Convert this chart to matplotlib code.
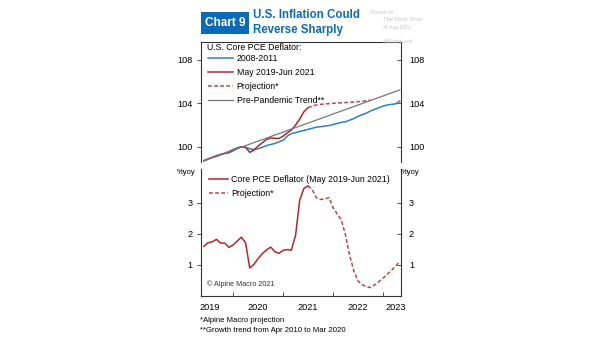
"""U.S. Inflation Could Reverse Sharply"""
import pandas as pd
import matplotlib
matplotlib.use('Agg')
from matplotlib import pyplot as plt

plt.rcParams['font.family'] = ['Liberation Sans', 'DejaVu Sans']

# Month-end dates, May 2019 - Apr 2023
dates = pd.date_range('2019-05-31', periods=48, freq='ME')

# Top panel: index levels
pce_2008_2011 = [98.71, 98.85, 99.0, 99.1, 99.25, 99.4, 99.55, 99.75, 99.9, 100.0,
                 99.95, 99.8, 99.75, 99.82, 99.95, 100.1, 100.2, 100.3, 100.45, 100.6,
                 101.0, 101.2, 101.3, 101.4, 101.5, 101.6, 101.7, 101.8, 101.85, 101.9,
                 101.95, 102.05, 102.15, 102.25, 102.3, 102.45, 102.6, 102.8, 102.95, 103.1,
                 103.3, 103.45, 103.6, 103.75, 103.85, 103.9, 103.95, 104.2]
pce_2019_2021 = [98.71, 98.86, 99.02, 99.17, 99.29, 99.38, 99.45, 99.63, 99.85, 100.0,
                 99.94, 99.48, 99.69, 100.06, 100.37, 100.68, 100.8, 100.77, 100.77, 100.98,
                 101.29, 101.54, 102.0, 102.55, 103.23, 103.6]
pce_projection = [103.6, 103.75, 103.85, 103.91, 103.94, 103.97, 104.0, 104.03, 104.05,
                  104.07, 104.09, 104.12, 104.15, 104.19, 104.24, 104.3]
trend_values = [98.71, 105.23]

# Bottom panel: %yoy
yoy_actual = [1.59, 1.71, 1.74, 1.82, 1.70, 1.70, 1.56, 1.64, 1.77, 1.89,
              1.70, 0.90, 1.02, 1.20, 1.36, 1.48, 1.57, 1.42, 1.37, 1.47,
              1.49, 1.47, 1.96, 3.08, 3.46, 3.54]
yoy_projection = [3.54, 3.41, 3.15, 3.10, 3.12, 3.16, 2.83, 2.62, 2.45, 1.95,
                  1.30, 0.80, 0.48, 0.36, 0.30, 0.27, 0.36, 0.46, 0.58, 0.70,
                  0.82, 0.96, 1.10]

year_ticks = ['2020', '2021', '2022', '2023']
year_labels = ['2019', '2020', '2021', '2022', '2023']
year_label_pos = ['2019-07-14', '2020-07-01', '2021-07-01', '2022-07-01', '2023-04-01']

BLUE = '#2f7fc1'
RED = '#b0272d'
RED_DASH = '#b5474d'
GREY = '#777777'
TITLE_BLUE = '#0a6ab8'
FS = 6.3

fig = plt.figure(figsize=(6.05, 3.41), dpi=100)
ax1 = fig.add_axes([0.3322, 0.5249, 0.330, 0.3519])
ax2 = fig.add_axes([0.3322, 0.1320, 0.330, 0.3724])

# Top panel
ax1.plot(dates, pce_2008_2011, c=BLUE, lw=1.1)
ax1.plot(dates[:26], pce_2019_2021, c=RED, lw=1.1)
ax1.plot(dates[25:25 + len(pce_projection)], pce_projection, c=RED_DASH, lw=1.1, ls=(0, (2.5, 1.5)))
ax1.plot([dates[0], dates[-1]], trend_values, c=GREY, lw=0.9)

# Bottom panel
ax2.plot(dates[:26], yoy_actual, c=RED, lw=1.1)
ax2.plot(dates[25:25 + len(yoy_projection)], yoy_projection, c=RED_DASH, lw=1.1, ls=(0, (2.5, 1.5)))

xmin = pd.Timestamp('2019-05-10')
xmax = pd.Timestamp('2023-05-07')
for ax in (ax1, ax2):
    ax.set_xlim(xmin, xmax)
    ax.set_xticks([pd.Timestamp(y + '-01-01') for y in year_ticks])
    ax.set_xticks([pd.Timestamp(d) for d in year_label_pos], minor=True)
    ax.tick_params(axis='x', which='major', direction='in', length=3, width=0.6,
                   labelbottom=False, color='#333333')
    ax.tick_params(axis='x', which='minor', length=0, labelsize=FS + 0.3, pad=5)
    ax.tick_params(axis='y', direction='out', length=3, width=0.6, labelsize=FS + 0.3,
                   color='#333333', right=True, labelright=True, pad=3)
    for s in ax.spines.values():
        s.set_linewidth(0.8)
        s.set_color('#333333')
    ax.set_facecolor('none')

ax1.set_ylim(98.59, 109.65)
ax1.set_yticks([100, 104, 108])
ax1.spines['bottom'].set_visible(False)
ax1.tick_params(axis='x', which='both', bottom=False)
ax1.set_xticklabels([], minor=True)

ax2.set_ylim(0, 4.08)
ax2.set_yticks([1, 2, 3])
ax2.spines['top'].set_visible(False)
ax2.set_xticklabels(year_labels, minor=True)

# Right-side ticks point inward
for ax in (ax1, ax2):
    for t in ax.yaxis.get_major_ticks():
        t.tick2line.set_marker(matplotlib.lines.TICKLEFT)

# Legends
ax1.legend(['2008-2011', 'May 2019-Jun 2021', 'Projection*', 'Pre-Pandemic Trend**'],
           loc='upper left', bbox_to_anchor=(0.005, 0.95), frameon=False,
           fontsize=FS, handlelength=2.9, handletextpad=0.35, labelspacing=0.55,
           borderaxespad=0.3)
ax1.text(0.028, 0.952, 'U.S. Core PCE Deflator:', transform=ax1.transAxes,
         fontsize=FS, va='center', ha='left')
ax2.legend(['Core PCE Deflator (May 2019-Jun 2021)', 'Projection*'],
           loc='upper left', bbox_to_anchor=(0.01, 1.0), frameon=False,
           fontsize=FS, handlelength=2.2, handletextpad=0.35, labelspacing=0.55,
           borderaxespad=0.3)
ax2.text(0.03, 0.06, '© Alpine Macro 2021', transform=ax2.transAxes,
         fontsize=5.2, va='bottom', ha='left', color='#333333')

fig.text(186 / 605, 1 - 172 / 341, '%yoy', fontsize=5.5, ha='center', va='center')
fig.text(410 / 605, 1 - 172 / 341, '%yoy', fontsize=5.5, ha='center', va='center')

# Title
fig.patches.append(plt.Rectangle((201 / 605, 1 - 34 / 341), 48 / 605, 22 / 341,
                                 transform=fig.transFigure, facecolor=TITLE_BLUE,
                                 edgecolor='none'))
fig.text(225 / 605, 1 - 23 / 341, 'Chart 9', color='white', fontsize=8.5,
         fontweight='bold', ha='center', va='center')
fig.text(253 / 605, 1 - 22.5 / 341, 'U.S. Inflation Could\nReverse Sharply',
         color=TITLE_BLUE, fontsize=8.3, fontweight='bold', ha='left', va='center',
         linespacing=1.3)

# Watermark
fig.text(371 / 605, 1 - 12 / 341, 'Posted on', fontsize=3.5, color='#c8c8c8', va='center')
fig.text(383 / 605, 1 - 19.5 / 341, 'The Daily Shot', fontsize=4.2, color='#c8c8c8', va='center')
fig.text(383 / 605, 1 - 27 / 341, '24-Aug-2021', fontsize=3.5, color='#c8c8c8', va='center')
fig.text(383 / 605, 1 - 41 / 341, '@SoberLook', fontsize=3.8, color='#c8c8c8', va='center')

# Footnotes
fig.text(200 / 605, 1 - 321 / 341, '*Alpine Macro projection', fontsize=5.6, va='center')
fig.text(200 / 605, 1 - 331 / 341, '**Growth trend from Apr 2010 to Mar 2020', fontsize=5.6,
         va='center')

fig.savefig('out.png', dpi=100)
